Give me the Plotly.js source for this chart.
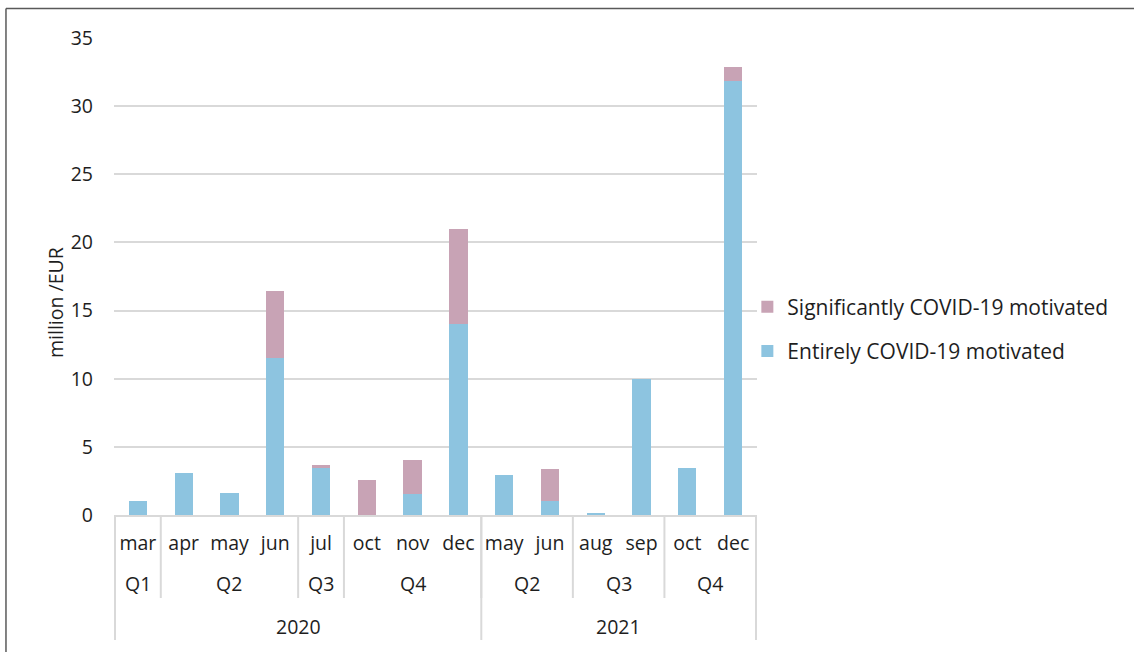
<!DOCTYPE html>
<html>
<head>
<meta charset="utf-8">
<script src="https://cdn.plot.ly/plotly-3.0.1.min.js"></script>
<style>html,body{margin:0;padding:0;background:#fff;}#chart{width:1134px;height:652px;}</style>
</head>
<body>
<div id="chart"></div>
<script>
// ---- data ----
const months   = ["mar","apr","may","jun","jul","oct","nov","dec","may","jun","aug","sep","oct","dec"];
const quarters = ["Q1","Q2","Q2","Q2","Q3","Q4","Q4","Q4","Q2","Q2","Q3","Q3","Q4","Q4"];
const years    = ["2020","2020","2020","2020","2020","2020","2020","2020","2021","2021","2021","2021","2021","2021"];
const entirely      = [1.0, 3.1, 1.6, 11.5, 3.45, 0.0, 1.55, 14.0, 2.95, 1.05, 0.15, 10.0, 3.45, 31.85];
const significantly = [0.0, 0.0, 0.0, 4.9, 0.2, 2.55, 2.5, 7.0, 0.0, 2.3, 0.0, 0.0, 0.0, 1.05];

const FONT = "'Open Sans', 'Noto Sans', sans-serif";
const FS = 19.5;
const TXT = "#1e1e1e";
const GRID = "#d9d9d9";

const cats = months.map((m, i) => years[i] + "-" + quarters[i] + "-" + m);

const traces = [
  {type:"bar", name:"Entirely COVID-19 motivated", x:cats, y:entirely,
   marker:{color:"#8dc4e0", line:{width:0}}, legendgroup:"a", legendrank:2, hoverinfo:"y"},
  {type:"bar", name:"Significantly COVID-19 motivated", x:cats, y:significantly,
   marker:{color:"#c8a3b5", line:{width:0}}, legendgroup:"b", legendrank:1, hoverinfo:"y"}
];

// ---- multi-level axis decorations ----
const shapes = [];
const annotations = [];
const yQline = -0.174, yYline = -0.262, yQlab = -0.1426, yYlab = -0.2348;

function groups(keyFn){
  const out = []; let start = 0;
  for (let i = 1; i <= months.length; i++){
    if (i === months.length || keyFn(i) !== keyFn(start)){ out.push([start, i-1]); start = i; }
  }
  return out;
}
const qGroups = groups(i => years[i] + quarters[i]);
const yGroups = groups(i => years[i]);

qGroups.forEach(([a,b]) => {
  annotations.push({x:(a+b)/2, xref:"x", y:yQlab, yref:"paper", text:quarters[a], showarrow:false,
    xanchor:"center", yanchor:"middle", font:{family:FONT, size:FS, color:TXT}});
  shapes.push({type:"line", xref:"x", yref:"paper", x0:b+0.5, x1:b+0.5, y0:0, y1:yQline,
    line:{color:GRID, width:2}});
});
yGroups.forEach(([a,b]) => {
  annotations.push({x:(a+b)/2, xref:"x", y:yYlab, yref:"paper", text:years[a], showarrow:false,
    xanchor:"center", yanchor:"middle", font:{family:FONT, size:FS, color:TXT}});
  shapes.push({type:"line", xref:"x", yref:"paper", x0:b+0.5, x1:b+0.5, y0:0, y1:yYline,
    line:{color:GRID, width:2}});
});
shapes.push({type:"line", xref:"x", yref:"paper", x0:-0.5, x1:-0.5, y0:0, y1:yYline, line:{color:GRID, width:2}});

// outer chart frame (left and top edges)
shapes.push({type:"line", xref:"paper", yref:"paper", x0:-0.168, x1:-0.168, y0:1.062, y1:-0.4, line:{color:"#595959", width:1.5}});
shapes.push({type:"line", xref:"paper", yref:"paper", x0:-0.168, x1:1.7, y0:1.062, y1:1.062, line:{color:"#595959", width:1.5}});

annotations.push({x:-0.0918, xref:"paper", y:0.4465, yref:"paper", text:"million /EUR", textangle:-90,
  showarrow:false, xanchor:"center", yanchor:"middle", font:{family:FONT, size:FS, color:TXT}});

const layout = {
  width:1134, height:652,
  margin:{l:114, r:377, t:38, b:137, pad:0},
  paper_bgcolor:"#fff", plot_bgcolor:"#fff",
  barmode:"stack", bargap:0.6,
  font:{family:FONT, size:FS, color:TXT},
  xaxis:{type:"category", tickvals:cats, ticktext:months, showgrid:false, ticks:"",
    showline:true, linecolor:GRID, linewidth:2, zeroline:false,
    tickfont:{family:FONT, size:FS, color:TXT}, ticklabelstandoff:10, fixedrange:true},
  yaxis:{range:[0,35], dtick:5, tick0:0, showgrid:true, gridcolor:GRID, gridwidth:2,
    zeroline:false, showline:false, ticks:"", ticklabelstandoff:20,
    tickfont:{family:FONT, size:FS, color:TXT}, fixedrange:true},
  showlegend:true,
  legend:{x:0.985, xanchor:"left", y:0.479, yanchor:"top", traceorder:"grouped",
    tracegroupgap:14, font:{family:FONT, size:21, color:TXT}, bgcolor:"rgba(0,0,0,0)"},
  shapes:shapes, annotations:annotations
};

Plotly.newPlot("chart", traces, layout, {displayModeBar:false, staticPlot:true});
</script>
</body>
</html>
